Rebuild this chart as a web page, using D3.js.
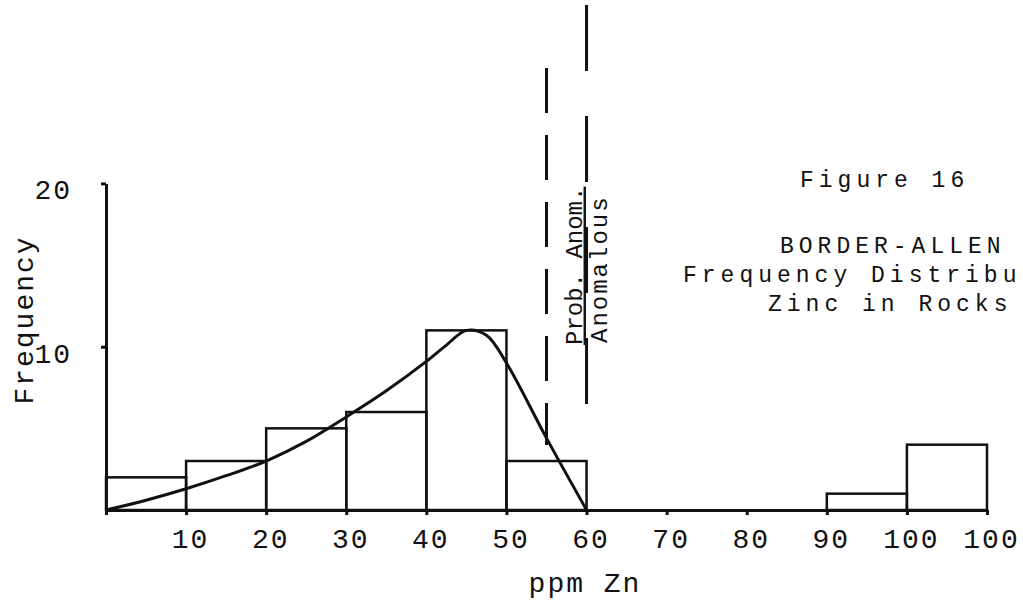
<!DOCTYPE html>
<html>
<head>
<meta charset="utf-8">
<script src="https://cdn.jsdelivr.net/npm/d3@7"></script>
<style>
  html, body { margin: 0; padding: 0; background: #fff; }
  #chart { width: 1023px; height: 605px; overflow: hidden; }
  text { font-family: "Liberation Mono", "DejaVu Sans Mono", monospace; fill: #111; }
</style>
</head>
<body>
<div id="chart"></div>
<script>
// histogram bins (ppm Zn, lower edge) and counts
var binStart = [0, 10, 20, 30, 40, 50, 90, 100],
    binCount = [2, 3, 5, 6, 11, 3, 1, 4],
    binWidth = 10

// fitted curve
var curveX = [0, 5, 10, 15, 20, 25, 30, 35, 40, 42.5, 45, 47.5, 50, 55, 60],
    curveY = [0, 0.6, 1.3, 2.1, 3.0, 4.2, 5.7, 7.3, 9.1, 10.1, 11.0, 10.7, 9.0, 4.4, 0]

// threshold lines: probably anomalous, anomalous
var probAnomAt = 55,
    anomAt = 60

var xTicks = [10, 20, 30, 40, 50, 60, 70, 80, 90, 100, 110],
    xTickLabels = ['10', '20', '30', '40', '50', '60', '70', '80', '90', '100', '100'],
    yTicks = [10, 20]

var titleLines = ['Figure 16', 'BORDER-ALLEN', 'Frequency Distribution', 'Zinc in Rocks']

var width = 1023, height = 605

var x = d3.scaleLinear().domain([0, 110]).range([106, 987]),
    y = d3.scaleLinear().domain([0, 20]).range([510, 183.4])

var svg = d3.select('#chart').append('svg')
    .attr('width', width)
    .attr('height', height)

var ink = '#111'

// bars
svg.append('g').selectAll('rect')
    .data(binStart)
    .join('rect')
    .attr('x', function(d) { return x(d) })
    .attr('y', function(d, i) { return y(binCount[i]) })
    .attr('width', x(binWidth) - x(0))
    .attr('height', function(d, i) { return y(0) - y(binCount[i]) })
    .attr('fill', 'none')
    .attr('stroke', ink)
    .attr('stroke-width', 2.5)

// x axis
var xAxis = svg.append('g')
    .attr('transform', 'translate(0,' + y(0) + ')')
    .call(d3.axisBottom(x).tickValues([0].concat(xTicks)).tickSize(5).tickSizeOuter(0)
        .tickFormat(function(d) { var i = xTicks.indexOf(d); return i < 0 ? '' : xTickLabels[i] }))
xAxis.select('.domain').attr('stroke', ink).attr('stroke-width', 3)
xAxis.selectAll('.tick line').attr('stroke', ink).attr('stroke-width', 3)
xAxis.selectAll('.tick text')
    .attr('y', 38).attr('dy', 0).attr('dx', 4)
    .style('font-size', '28px').style('letter-spacing', '2px')
    .attr('fill', ink)

// y axis
var yAxis = svg.append('g')
    .attr('transform', 'translate(' + x(0) + ',0)')
    .call(d3.axisLeft(y).tickValues(yTicks).tickSize(5).tickSizeOuter(0).tickFormat(d3.format('d')))
yAxis.select('.domain').attr('stroke', ink).attr('stroke-width', 3)
yAxis.selectAll('.tick line').attr('stroke', ink).attr('stroke-width', 3)
yAxis.selectAll('.tick text')
    .attr('x', -34).attr('dy', '0.55em')
    .style('font-size', '28px').style('letter-spacing', '2px')
    .attr('fill', ink)

// fitted curve
var line = d3.line()
    .x(function(d) { return x(d) })
    .y(function(d, i) { return y(curveY[i]) })
    .curve(d3.curveCatmullRom.alpha(0.5))

svg.append('path')
    .datum(curveX)
    .attr('d', line)
    .attr('fill', 'none')
    .attr('stroke', ink)
    .attr('stroke-width', 3)

// dashed thresholds
svg.append('line')
    .attr('x1', x(probAnomAt)).attr('x2', x(probAnomAt))
    .attr('y1', 68).attr('y2', 445)
    .attr('stroke', ink).attr('stroke-width', 3)
    .attr('stroke-dasharray', '45,22')
svg.append('line')
    .attr('x1', x(anomAt)).attr('x2', x(anomAt))
    .attr('y1', 5).attr('y2', 440)
    .attr('stroke', ink).attr('stroke-width', 3)
    .attr('stroke-dasharray', '66,45')

// zone labels
svg.append('text')
    .attr('transform', 'translate(' + (x(anomAt) - 5) + ',345) rotate(-90)')
    .style('font-size', '24px')
    .style('text-decoration', 'underline')
    .text('Prob. Anom.')
svg.append('text')
    .attr('transform', 'translate(' + (x(anomAt) + 20) + ',343) rotate(-90)')
    .style('font-size', '24px').style('letter-spacing', '2px')
    .text('Anomalous')

// axis titles
svg.append('text')
    .attr('transform', 'translate(33,320) rotate(-90)')
    .attr('text-anchor', 'middle')
    .style('font-size', '28px').style('letter-spacing', '2px')
    .text('Frequency')
svg.append('text')
    .attr('x', 585).attr('y', 592)
    .attr('text-anchor', 'middle')
    .style('font-size', '28px').style('letter-spacing', '2px')
    .text('ppm Zn')

// figure caption
var capX = [800, 780, 683, 768],
    capY = [187, 253, 282, 311]
svg.append('g').selectAll('text')
    .data(titleLines)
    .join('text')
    .attr('x', function(d, i) { return capX[i] })
    .attr('y', function(d, i) { return capY[i] })
    .style('font-size', '23px').style('letter-spacing', '5px')
    .text(function(d) { return d })
</script>
</body>
</html>
